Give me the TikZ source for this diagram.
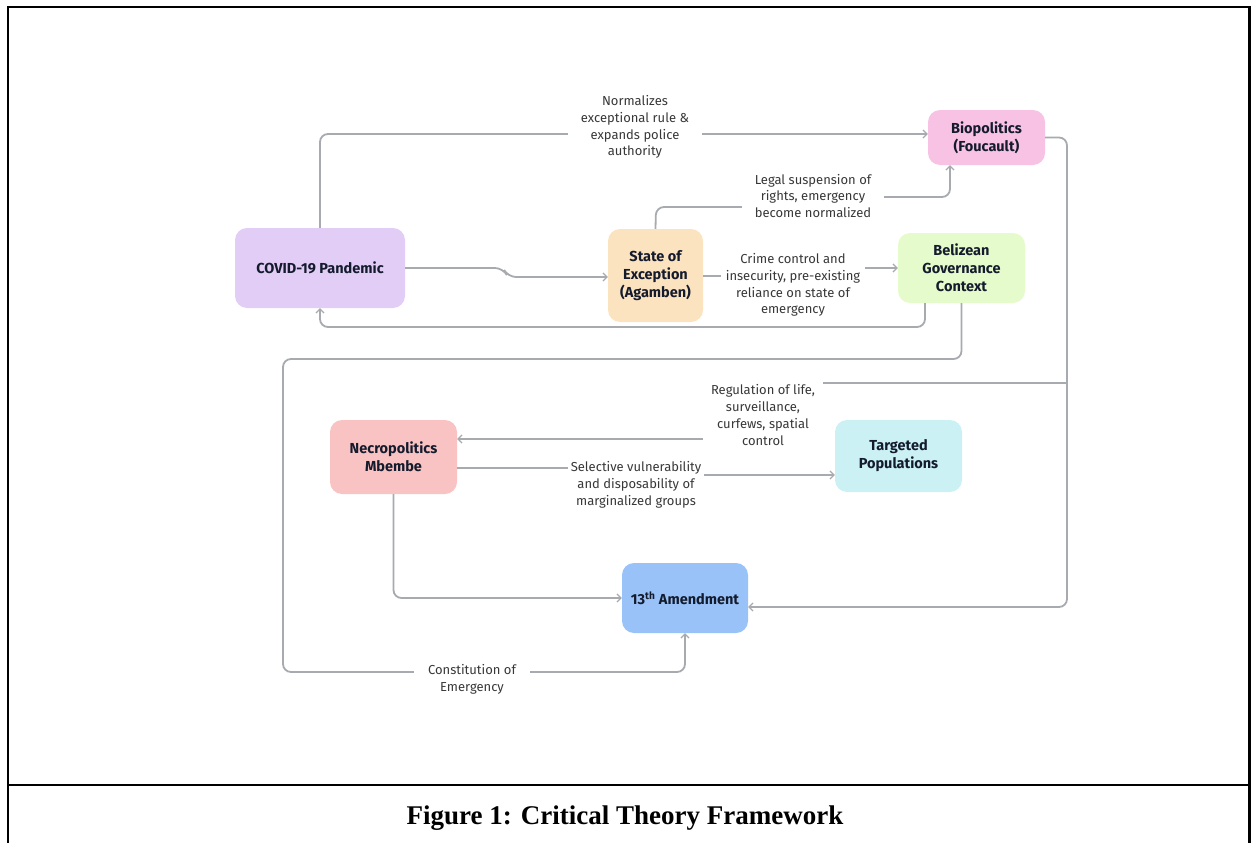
\documentclass[tikz,border=0pt]{standalone}
\usepackage{fontspec}
\setmainfont{Liberation Serif}
\newfontfamily\diagfont{Fira Sans}
\usetikzlibrary{arrows.meta}
\definecolor{cCovid}{HTML}{E2CDF7}
\definecolor{cSoe}{HTML}{FCE3C0}
\definecolor{cBel}{HTML}{E6FBCB}
\definecolor{cBio}{HTML}{F8C2E4}
\definecolor{cNecro}{HTML}{FAC3C3}
\definecolor{cTarg}{HTML}{CBF1F4}
\definecolor{cAmend}{HTML}{98C2F8}
\definecolor{cLine}{HTML}{A7AAAE}
\definecolor{cTitle}{HTML}{141B2D}
\definecolor{cLabel}{HTML}{383838}
\tikzset{
  box/.style={rounded corners=12pt, align=center, inner sep=2pt,
    font=\diagfont\bfseries\fontsize{14.5}{18}\selectfont, text=cTitle},
  conn/.style={draw=cLine, line width=1.8pt, rounded corners=8pt,
    -{Straight Barb[length=4pt,width=8pt,line width=1.2pt]}},
  lbl/.style={fill=white, align=center, inner xsep=5pt, inner ysep=4pt,
    font=\diagfont\fontsize{13}{16.7}\selectfont, text=cLabel},
  frame/.style={line width=2.5pt, draw=black}
}
\begin{document}
\begin{tikzpicture}[x=1pt,y=-1pt]
\useasboundingbox (0,0) rectangle (1251,843);
% frame
\draw[frame] (8,843) -- (8,7) -- (1251,7);
\draw[frame] (8,785) -- (1251,785);
\draw[frame] (1249.5,7) -- (1249.5,843);
\node[font=\bfseries\fontsize{27}{30}\selectfont] (cap) at (625,818) {Figure 1: Critical Theory Framework};

% nodes
\node[box, fill=cCovid, minimum width=170pt, minimum height=80pt] (covid) at (320,268) {COVID-19 Pandemic};
\node[box, fill=cSoe, minimum width=95pt, minimum height=93pt] (soe) at (655.5,275.5) {State of\\Exception\\(Agamben)};
\node[box, fill=cBel, minimum width=127pt, minimum height=70pt] (bel) at (961.5,268) {Belizean\\Governance\\Context};
\node[box, fill=cBio, minimum width=117pt, minimum height=55pt] (bio) at (986.5,137.5) {Biopolitics\\(Foucault)};
\node[box, fill=cNecro, minimum width=127pt, minimum height=74pt] (necro) at (393.5,457) {Necropolitics\\Mbembe};
\node[box, fill=cTarg, minimum width=127pt, minimum height=72pt] (targ) at (898.5,456) {Targeted\\Populations};
\node[box, fill=cAmend, minimum width=126pt, minimum height=70pt] (amend) at (685,598) {13\textsuperscript{th} Amendment};

\coordinate (br) at (1067,383);

% connectors
\draw[conn] (covid.north) -- (320,134) -- (bio.west |- 0,134);
\draw[conn] (soe.north) -- (656,207) -- (800,207) -- (800,197) -- (950,197) -- (bio.south -| 950,0);
\draw[conn] (covid.east) -- (503,268) -- (508,277) -- (soe.west |- 0,277);
\draw[conn] (soe.east |- 0,276) -- (780,276) -- (780,268) -- (bel.west);
\draw[conn] (bel.south -| 925,0) -- (925,327) -- (320,327) -- (covid.south);
\draw[conn] (bel.south) -- (961.5,359) -- (283,359) -- (283,672) -- (685,672) -- (amend.south);
\draw[conn] (bio.east) -- (1067,137.5) -- (1067,607) -- (amend.east |- 0,607);
\draw[conn] (br) -- (790,383) -- (790,439) -- (necro.east |- 0,439);
\draw[conn] (necro.east |- 0,468) -- (640,468) -- (640,475) -- (targ.west |- 0,475);
\draw[conn] (necro.south) -- (393.5,598) -- (amend.west);

% labels
\node[lbl, inner xsep=13pt] (la) at (635,127) {Normalizes\\exceptional rule \&\\expands police\\authority};
\node[lbl, inner xsep=13pt] (lb) at (813,196) {Legal suspension of\\rights, emergency\\become normalized};
\node[lbl] (ld) at (793,285) {Crime control and\\insecurity, pre-existing\\reliance on state of\\emergency};
\node[lbl, inner xsep=8pt] (lh) at (763,415) {Regulation of life,\\surveillance,\\curfews, spatial\\control};
\node[lbl, inner xsep=3pt] (li) at (636,485) {Selective vulnerability\\and disposability of\\marginalized groups};
\node[lbl, inner xsep=14pt] (lf) at (472,679) {Constitution of\\Emergency};
\end{tikzpicture}
\end{document}
